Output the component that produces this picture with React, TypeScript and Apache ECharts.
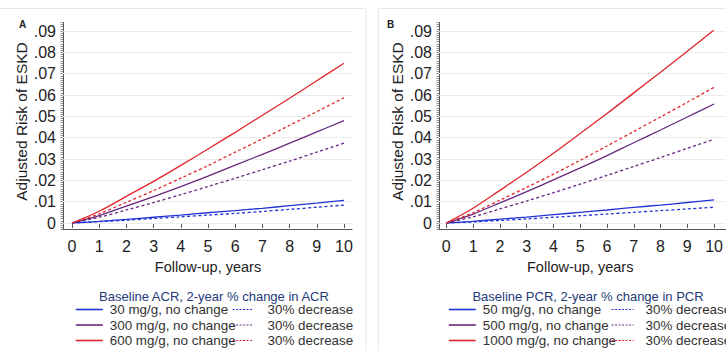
import React, { useEffect, useRef } from "react";
import * as echarts from "echarts";

// ---------- data ----------
const years = [0, 1, 2, 3, 4, 5, 6, 7, 8, 9, 10];
const yTicks = [0, 0.01, 0.02, 0.03, 0.04, 0.05, 0.06, 0.07, 0.08, 0.09];

// Panel A (baseline ACR)
const acr30NoChange = [0, 0.0008, 0.0017, 0.0027, 0.0037, 0.0048, 0.0058, 0.0069, 0.0081, 0.0093, 0.0106];
const acr30Decrease = [0, 0.0006, 0.0013, 0.0021, 0.0029, 0.0037, 0.0045, 0.0054, 0.0064, 0.0074, 0.0084];
const acr300NoChange = [0, 0.0035, 0.0079, 0.0124, 0.0171, 0.022, 0.0271, 0.0322, 0.0374, 0.0427, 0.048];
const acr300Decrease = [0, 0.0027, 0.0061, 0.0096, 0.0133, 0.0171, 0.021, 0.025, 0.029, 0.0332, 0.0374];
const acr600NoChange = [0, 0.0055, 0.0125, 0.0195, 0.027, 0.0347, 0.0425, 0.0505, 0.0585, 0.0667, 0.0749];
const acr600Decrease = [0, 0.0043, 0.0097, 0.0152, 0.021, 0.0269, 0.0332, 0.0394, 0.0458, 0.0522, 0.0587];

// Panel B (baseline PCR)
const pcr50NoChange = [0, 0.0008, 0.0018, 0.0028, 0.0039, 0.005, 0.0061, 0.0073, 0.0084, 0.0096, 0.0108];
const pcr50Decrease = [0, 0.0005, 0.0012, 0.0019, 0.0027, 0.0034, 0.0042, 0.005, 0.0058, 0.0066, 0.0074];
const pcr500NoChange = [0, 0.0042, 0.0094, 0.0147, 0.0202, 0.0258, 0.0316, 0.0376, 0.0436, 0.0497, 0.0558];
const pcr500Decrease = [0, 0.0029, 0.0066, 0.0103, 0.0142, 0.0182, 0.0223, 0.0265, 0.0307, 0.035, 0.0393];
const pcr1000NoChange = [0, 0.0069, 0.0153, 0.0238, 0.0327, 0.042, 0.0513, 0.061, 0.0707, 0.0805, 0.0905];
const pcr1000Decrease = [0, 0.0048, 0.0107, 0.0167, 0.0229, 0.0294, 0.0361, 0.0429, 0.0497, 0.0566, 0.0636];

const legendTitleA = "Baseline ACR, 2-year % change in ACR";
const legendTitleB = "Baseline PCR, 2-year % change in PCR";
const namesA = ["30 mg/g, no change", "300 mg/g, no change", "600 mg/g, no change"];
const namesB = ["50 mg/g, no change", "500 mg/g, no change", "1000 mg/g, no change"];
const decreaseName = "30% decrease";

// ---------- styles ----------
const BLUE = "#2233d6";
const PURPLE = "#66287f";
const RED = "#e2262b";
const FONT = "'Liberation Sans', Arial, sans-serif";
const AXIS = "#555";
const DASH = [3, 2.5];

// layout (pixels)
const PX = 192 / 0.09; // px per unit of risk
const FRAME_YMIN = -0.003;
const FRAME_YMAX = 0.094;

function panel(dataLeft: number, dataWidth: number, axisX: number, frameRight: number) {
  const top = 31;
  const height = 192;
  const ux = dataWidth / 10;
  const frameTop = top - (FRAME_YMAX - 0.09) * PX;
  const frameBottom = top + height - FRAME_YMIN * PX;
  return {
    data: { left: dataLeft, top, width: dataWidth, height },
    frame: { left: axisX, top: frameTop, width: frameRight - axisX, height: frameBottom - frameTop },
    xMin: (axisX - dataLeft) / ux,
    xMax: 10 + (frameRight - (dataLeft + dataWidth)) / ux,
    yOffset: dataLeft - axisX,
    xOffset: frameBottom - (top + height),
  };
}

const strip = (n: string) => n.replace(/\u200b/g, "");

export default function App() {
  const ref = useRef<HTMLDivElement>(null);

  useEffect(() => {
    if (!ref.current) return;
    const chart = echarts.init(ref.current, undefined, { renderer: "svg" });

    const A = panel(72, 272, 63, 352);
    const B = panel(446.3, 272.7, 439, 727);

    const grids = [A.frame, A.data, B.frame, B.data].map((g) => ({ ...g, containLabel: false }));

    const frameX = (p: any) => ({
      type: "value",
      min: p.xMin,
      max: p.xMax,
      axisLine: { show: true, onZero: false, lineStyle: { color: AXIS, width: 1 } },
      axisTick: { show: false },
      axisLabel: { show: false },
      splitLine: { show: false },
    });
    const frameY = () => ({
      type: "value",
      min: FRAME_YMIN,
      max: FRAME_YMAX,
      interval: 0.001,
      axisLine: { show: true, onZero: false, lineStyle: { color: AXIS, width: 1 } },
      axisTick: { show: true, length: 2.5, lineStyle: { color: "#777", width: 0.8 } },
      axisLabel: { show: false },
      splitLine: { show: false },
    });
    const dataX = (p: any) => ({
      type: "value",
      min: 0,
      max: 10,
      interval: 1,
      offset: p.xOffset,
      axisLine: { show: false },
      axisTick: { show: true, length: 5, lineStyle: { color: AXIS, width: 1 } },
      axisLabel: { fontSize: 16, color: "#222", margin: 9, fontFamily: FONT },
      splitLine: { show: false },
      name: "Follow-up, years",
      nameLocation: "middle",
      nameGap: 24,
      nameTextStyle: { fontSize: 14.5, color: "#222", fontFamily: FONT },
    });
    const dataY = (p: any, gap: number) => ({
      type: "value",
      min: 0,
      max: 0.09,
      interval: 0.01,
      offset: p.yOffset,
      axisLine: { show: false },
      axisTick: { show: true, length: 5, lineStyle: { color: AXIS, width: 1 } },
      axisLabel: {
        fontSize: 16,
        color: "#222",
        margin: 7,
        fontFamily: FONT,
        formatter: (v: number) => (Math.abs(v) < 1e-9 ? "0" : "." + String(Math.round(v * 100)).padStart(2, "0")),
      },
      splitLine: { show: false },
      name: "Adjusted Risk of ESKD",
      nameLocation: "middle",
      nameGap: gap,
      nameTextStyle: { fontSize: 15.5, color: "#222", fontFamily: FONT, padding: [0, 0, 0, 11] },
    });

    const gridSeries = (idx: number) => ({
      type: "line",
      xAxisIndex: idx,
      yAxisIndex: idx,
      data: [],
      silent: true,
      z: 1,
      markLine: {
        silent: true,
        symbol: "none",
        label: { show: false },
        lineStyle: { color: "#ebebeb", type: "solid", width: 1 },
        data: yTicks.map((v) => ({ yAxis: v })),
      },
    });

    const line = (name: string, values: number[], color: string, dashed: boolean, idx: number) => ({
      type: "line",
      name,
      xAxisIndex: idx,
      yAxisIndex: idx,
      data: years.map((t, i) => [t, values[i]]),
      showSymbol: false,
      symbol: "none",
      smooth: 0.3,
      z: 5,
      lineStyle: { color, width: 1.3, type: dashed ? DASH : "solid" },
      itemStyle: { color },
      emphasis: { disabled: true },
    });

    // unique names (zero-width suffix) for the repeated "30% decrease"
    const decA = [1, 2, 3].map((k) => decreaseName + "\u200b".repeat(k));
    const decB = [4, 5, 6].map((k) => decreaseName + "\u200b".repeat(k));

    const series = [
      gridSeries(0),
      gridSeries(2),
      line(namesA[0], acr30NoChange, BLUE, false, 1),
      line(decA[0], acr30Decrease, BLUE, true, 1),
      line(namesA[1], acr300NoChange, PURPLE, false, 1),
      line(decA[1], acr300Decrease, PURPLE, true, 1),
      line(namesA[2], acr600NoChange, RED, false, 1),
      line(decA[2], acr600Decrease, RED, true, 1),
      line(namesB[0], pcr50NoChange, BLUE, false, 3),
      line(decB[0], pcr50Decrease, BLUE, true, 3),
      line(namesB[1], pcr500NoChange, PURPLE, false, 3),
      line(decB[1], pcr500Decrease, PURPLE, true, 3),
      line(namesB[2], pcr1000NoChange, RED, false, 3),
      line(decB[2], pcr1000Decrease, RED, true, 3),
    ];

    const legend = (data: string[], left: number, padLeft: number, width: number, dotted: boolean) => ({
      data,
      left,
      top: 303,
      height: 80,
      padding: 0,
      orient: "vertical",
      itemWidth: width,
      itemHeight: 10,
      itemGap: 2.5,
      selectedMode: false,
      formatter: strip,
      itemStyle: { opacity: 0 },
      lineStyle: dotted ? { type: [2, 1.5], width: 1.2 } : { width: 1.6 },
      textStyle: { fontSize: 13.4, color: "#333", fontFamily: FONT, padding: [0, 0, 0, padLeft] },
    });

    chart.setOption({
      animation: false,
      backgroundColor: "#fff",
      textStyle: { fontFamily: FONT },
      title: [
        { text: "A", left: 14, top: 14, textStyle: { fontSize: 10, fontWeight: "bold", color: "#222", fontFamily: FONT } },
        { text: "B", left: 382, top: 14, textStyle: { fontSize: 10, fontWeight: "bold", color: "#222", fontFamily: FONT } },
        { text: legendTitleA, left: 209, top: 284.5, textAlign: "center", textStyle: { fontSize: 13, fontWeight: "normal", color: "#243a78", fontFamily: FONT } },
        { text: legendTitleB, left: 583, top: 284.5, textAlign: "center", textStyle: { fontSize: 13, fontWeight: "normal", color: "#243a78", fontFamily: FONT } },
      ],
      grid: grids,
      xAxis: [frameX(A), dataX(A), frameX(B), dataX(B)].map((a, i) => ({ ...a, gridIndex: i })),
      yAxis: [frameY(), dataY(A, 27), frameY(), dataY(B, 31)].map((a, i) => ({ ...a, gridIndex: i })),
      legend: [
        legend(namesA, 75, 2, 27, false),
        legend(decA, 232, 9, 21, true),
        legend(namesB, 448, 2, 27, false),
        legend(decB, 611, 7, 22, true),
      ],
      graphic: [
        { type: "rect", silent: true, z: -10, shape: { x: -1, y: 8.5, width: 367, height: 400 }, style: { fill: "none", stroke: "#e8e8e8", lineWidth: 1 } },
        { type: "rect", silent: true, z: -10, shape: { x: 378.5, y: 8.5, width: 400, height: 400 }, style: { fill: "none", stroke: "#e8e8e8", lineWidth: 1 } },
      ],
      series,
    });

    return () => chart.dispose();
  }, []);

  return <div ref={ref} style={{ position: "absolute", left: 0, top: 0, width: 726, height: 350 }} />;
}
